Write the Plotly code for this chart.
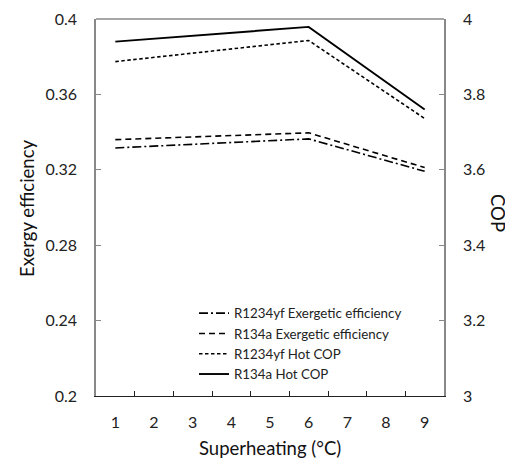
import plotly.graph_objects as go

categories = ['1', '2', '3', '4', '5', '6', '7', '8', '9']
x_points = ['1', '6', '9']
r1234yf_exergy = [0.3316, 0.3364, 0.3192]
r134a_exergy = [0.3360, 0.3396, 0.3212]
r1234yf_cop = [3.887, 3.943, 3.736]
r134a_cop = [3.940, 3.979, 3.760]

font_family = "Lato, Carlito, 'Liberation Sans', sans-serif"

# page body has an 8px margin, so the figure is shrunk by 8px to fit the window
W, H = 505, 456
L, R, T, B = 88, 69, 11, 68
pw, ph = W - L - R, H - T - B

def px_x(px):
    # px in window coordinates
    return (px - 8 - L) / pw

def px_y(py):
    return (H - B - (py - 8)) / ph

fig = go.Figure()
fig.add_trace(go.Scatter(x=x_points, y=r1234yf_exergy, mode='lines', name='R1234yf Exergetic efficiency',
                         line=dict(color='black', width=1.6, dash='9px,3px,2px,3px')))
fig.add_trace(go.Scatter(x=x_points, y=r134a_exergy, mode='lines', name='R134a Exergetic efficiency',
                         line=dict(color='black', width=1.6, dash='6px,4px')))
fig.add_trace(go.Scatter(x=x_points, y=r1234yf_cop, mode='lines', name='R1234yf Hot COP', yaxis='y2',
                         line=dict(color='black', width=1.6, dash='3.5px,2.5px')))
fig.add_trace(go.Scatter(x=x_points, y=r134a_cop, mode='lines', name='R134a Hot COP', yaxis='y2',
                         line=dict(color='black', width=1.9)))

axis_color = '#888888'
title_font = dict(size=18.5, color='#111', family=font_family)
fig.update_layout(
    width=W, height=H,
    margin=dict(l=L, r=R, t=T, b=B),
    paper_bgcolor='white', plot_bgcolor='white',
    font=dict(family=font_family, size=16, color='#222'),
    showlegend=True,
    legend=dict(x=px_x(194), y=px_y(298), xanchor='left', yanchor='top', bgcolor='rgba(0,0,0,0)',
                font=dict(size=13.3, color='#222'), tracegroupgap=0, traceorder='normal'),
    xaxis=dict(type='category', categoryorder='array', categoryarray=categories,
               range=[-0.5, 8.5], tickson='boundaries', ticks='inside', ticklen=5,
               tickcolor='#222', showline=True, linecolor='#222', linewidth=1.2,
               showgrid=False, zeroline=False, automargin=False, ticklabelstandoff=12),
    yaxis=dict(range=[0.2, 0.4], tickvals=[0.2, 0.24, 0.28, 0.32, 0.36, 0.4],
               ticktext=['0.2', '0.24', '0.28', '0.32', '0.36', '0.4'],
               ticks='inside', ticklen=5, tickcolor=axis_color, showline=True,
               linecolor=axis_color, linewidth=1.5, showgrid=False, zeroline=False,
               automargin=False, ticklabelstandoff=14),
    yaxis2=dict(range=[3, 4], tickvals=[3, 3.2, 3.4, 3.6, 3.8, 4],
                ticktext=['3', '3.2', '3.4', '3.6', '3.8', '4'],
                overlaying='y', side='right', ticks='inside', ticklen=5, tickcolor=axis_color,
                showline=True, linecolor=axis_color, linewidth=1.5, showgrid=False, zeroline=False,
                automargin=False, ticklabelstandoff=14),
    shapes=[dict(type='line', xref='paper', yref='paper', x0=0, x1=1, y0=1, y1=1,
                 line=dict(color=axis_color, width=1.5))],
    annotations=[
        dict(text='COP', textangle=90, x=px_x(498), y=px_y(213), xref='paper', yref='paper',
             xanchor='center', yanchor='middle', showarrow=False, font=title_font),
        dict(text='Exergy efficiency', textangle=-90, x=px_x(27), y=px_y(208), xref='paper', yref='paper',
             xanchor='center', yanchor='middle', showarrow=False, font=title_font),
        dict(text='Superheating (°C)', x=px_x(270), y=px_y(448), xref='paper', yref='paper',
             xanchor='center', yanchor='middle', showarrow=False, font=title_font),
    ],
)

fig.write_html('out.html')
